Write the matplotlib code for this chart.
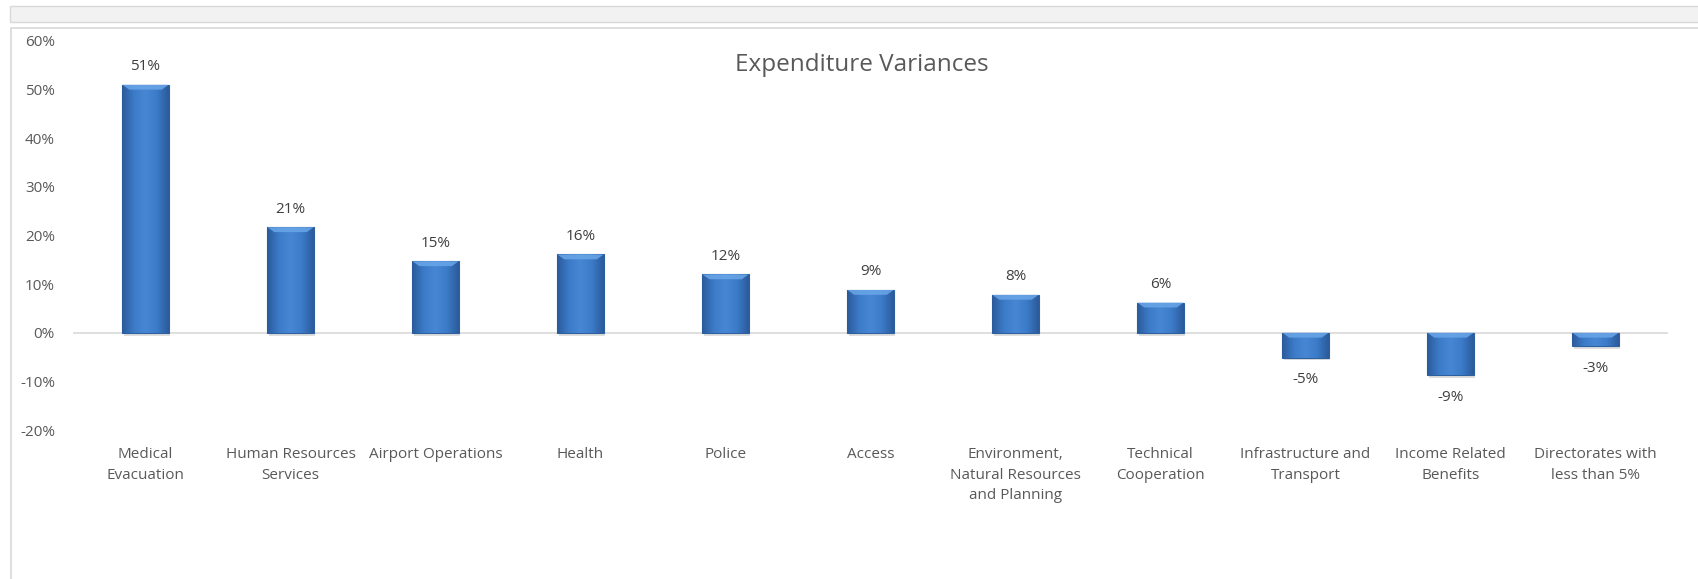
import numpy as np
import matplotlib.pyplot as plt
from matplotlib.colors import LinearSegmentedColormap
from matplotlib.patches import Rectangle

categories = ["Medical\nEvacuation", "Human Resources\nServices", "Airport Operations",
              "Health", "Police", "Access", "Environment,\nNatural Resources\nand Planning",
              "Technical\nCooperation", "Infrastructure and\nTransport",
              "Income Related\nBenefits", "Directorates with\nless than 5%"]
variance = [51.0, 21.7, 14.7, 16.1, 12.0, 8.8, 7.8, 6.2, -5.1, -8.7, -2.8]
value_labels = ["51%", "21%", "15%", "16%", "12%", "9%", "8%", "6%", "-5%", "-9%", "-3%"]
yticks = [-20, -10, 0, 10, 20, 30, 40, 50, 60]

plt.rcParams['font.family'] = ['Open Sans', 'DejaVu Sans']
text_col = '#595959'

fig = plt.figure(figsize=(16.99, 5.79), dpi=100)

# sheet decorations: grey band on top and chart border
fig.patches.append(Rectangle((10 / 1699, 1 - 22 / 579), 1, 16 / 579, transform=fig.transFigure,
                             facecolor='#f2f2f2', edgecolor='#d9d9d9', lw=1))
fig.patches.append(Rectangle((11 / 1699, -0.01), 1, 1 - 28 / 579 + 0.01, transform=fig.transFigure,
                             facecolor='none', edgecolor='#d9d9d9', lw=1.2))

ax = fig.add_axes([73 / 1699, 1 - 430 / 579, 1595 / 1699, 389 / 579])
x = np.arange(len(categories))
width = 0.32

grad = LinearSegmentedColormap.from_list('bar', ['#2b5b9b', '#3c7bc8', '#4787d2', '#3c7bc8', '#2b5b9b'])
# soft shadow under each bar
ax.bar(x + 0.01, variance, width=width, bottom=-0.6, color='#bfbfbf', alpha=0.5, lw=0, zorder=2.5)
bars = ax.bar(x, variance, width=width, color='#3c7bc8', edgecolor='#2e5f9f', lw=0.8, zorder=3)
g = np.linspace(0, 1, 64).reshape(1, -1)
for b, v in zip(bars, variance):
    x0 = b.get_x()
    y0, y1 = (0, v) if v > 0 else (v, 0)
    im = ax.imshow(g, cmap=grad, aspect='auto', extent=[x0, x0 + width, y0, y1], zorder=3.5)
    im.set_clip_path(b)
    # light bevel on the upper edge of the bar
    ax.fill([x0, x0 + width, x0 + width * 0.85, x0 + width * 0.15],
            [y1, y1, y1 - 1.0, y1 - 1.0], color='#6aa6e8', alpha=0.85, lw=0, zorder=4)

for xi, v, lab in zip(x, variance, value_labels):
    off = 13 if v > 0 else -16
    ax.annotate(lab, (xi, v), xytext=(0, off), textcoords='offset points',
                ha='center', va='center', fontsize=11, color='#404040')

ax.axhline(0, color='#d9d9d9', lw=1.2, zorder=2)
ax.set_xlim(-0.5, len(categories) - 0.5)
ax.set_ylim(-20, 60)
ax.set_yticks(yticks)
ax.set_yticklabels([f"{t}%" for t in yticks], fontsize=11, color=text_col)
ax.set_xticks(x)
ax.set_xticklabels(categories, fontsize=11, color=text_col, linespacing=1.5, va='top')
ax.tick_params(length=0)
ax.tick_params(axis='y', pad=13)
ax.tick_params(axis='x', pad=12.5)
for s in ax.spines.values():
    s.set_visible(False)

fig.text(862 / 1699, 1 - 65 / 579, "Expenditure Variances", ha='center', va='center',
         fontsize=17.5, color=text_col)

fig.savefig('out.png', dpi=100)
